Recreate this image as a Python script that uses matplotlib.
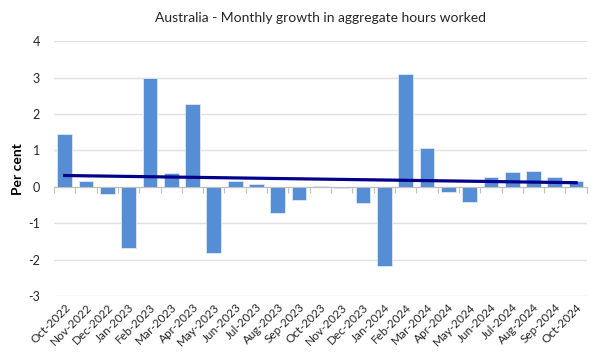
import matplotlib
matplotlib.use("Agg")
import matplotlib.pyplot as plt
import numpy as np

plt.rcParams["font.family"] = ["Lato", "DejaVu Sans"]

months = [
    "Oct-2022", "Nov-2022", "Dec-2022", "Jan-2023", "Feb-2023", "Mar-2023",
    "Apr-2023", "May-2023", "Jun-2023", "Jul-2023", "Aug-2023", "Sep-2023",
    "Oct-2023", "Nov-2023", "Dec-2023", "Jan-2024", "Feb-2024", "Mar-2024",
    "Apr-2024", "May-2024", "Jun-2024", "Jul-2024", "Aug-2024", "Sep-2024",
    "Oct-2024",
]
growth = [
    1.45, 0.17, -0.20, -1.68, 3.00, 0.39,
    2.27, -1.83, 0.17, 0.08, -0.73, -0.37,
    0.03, -0.04, -0.44, -2.18, 3.11, 1.06,
    -0.13, -0.41, 0.28, 0.41, 0.43, 0.28,
    0.15,
]
y_ticks = [-3, -2, -1, 0, 1, 2, 3, 4]

x = np.arange(len(months))

fig = plt.figure(figsize=(6, 3.61), dpi=100)
ax = fig.add_axes([0.09, 0.18, 0.888, 0.706])

ax.bar(x, growth, width=0.69, color="#558ed5", edgecolor="#dfe8f5", linewidth=0.6, zorder=2)

# linear trend
slope, icpt = np.polyfit(x, growth, 1)
ax.plot(x, slope * x + icpt, color="#00008b", linewidth=2.3, zorder=3)

ax.set_xlim(-0.5, len(months) - 0.5)
ax.set_ylim(-3, 4)
ax.set_yticks(y_ticks)
ax.set_yticklabels([str(v) for v in y_ticks], fontsize=9, color="#262626")
ax.tick_params(axis="y", length=0, pad=10)
ax.grid(axis="y", color="#e0e0e0", linewidth=1, zorder=0)
ax.set_axisbelow(True)

for s in ["top", "right", "left"]:
    ax.spines[s].set_visible(False)
ax.spines["bottom"].set_position(("data", 0))
ax.spines["bottom"].set_color("#bfbfbf")
ax.set_xticks(np.arange(len(months) + 1) - 0.5)
ax.set_xticklabels([])
ax.tick_params(axis="x", length=4, color="#bfbfbf", direction="out")

# month labels at the bottom of the plot
sec = ax.secondary_xaxis("bottom")
sec.set_xticks(x)
sec.set_xticklabels(months, rotation=45, ha="right", rotation_mode="anchor",
                    fontsize=8.5, color="#262626")
sec.tick_params(length=0, pad=4)
sec.spines["bottom"].set_visible(False)

ax.set_ylabel("Per cent", fontsize=10, fontweight="bold", labelpad=3)
ax.set_title("Australia - Monthly growth in aggregate hours worked",
             fontsize=10, color="#262626", pad=14)

fig.savefig("out.png", dpi=100)
